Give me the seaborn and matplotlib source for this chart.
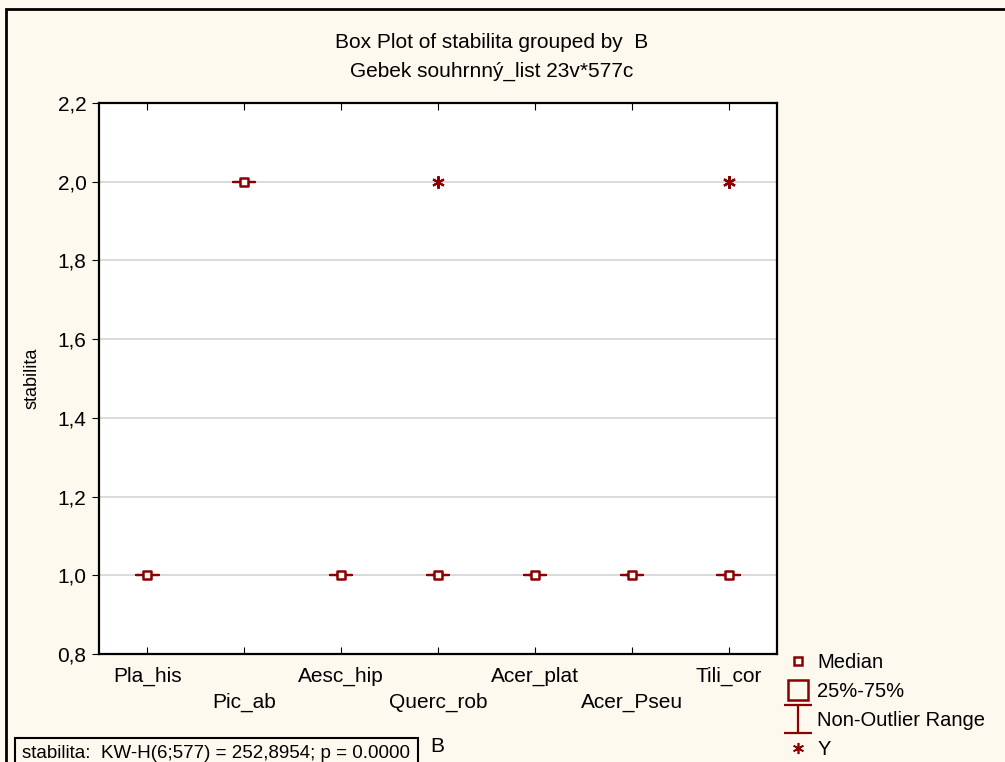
import numpy as np
import pandas as pd
import seaborn as sns
import matplotlib.pyplot as plt
from matplotlib.lines import Line2D
from matplotlib.path import Path
from matplotlib.patches import Rectangle

# stabilita values per tree species (group B)
groups = ["Pla_his", "Pic_ab", "Aesc_hip", "Querc_rob", "Acer_plat", "Acer_Pseu", "Tili_cor"]
pla_his = [1, 1, 1, 1, 1, 1]
pic_ab = [2, 2, 2, 2, 2, 2]
aesc_hip = [1, 1, 1, 1, 1, 1]
querc_rob = [1, 1, 1, 1, 1, 1, 1, 1, 2]
acer_plat = [1, 1, 1, 1, 1, 1]
acer_pseu = [1, 1, 1, 1, 1, 1]
tili_cor = [1, 1, 1, 1, 1, 1, 1, 1, 2, 2]
yticks = [0.8, 1.0, 1.2, 1.4, 1.6, 1.8, 2.0, 2.2]

title = "Box Plot of stabilita grouped by  B\nGebek souhrnný_list 23v*577c"
stat_text = "stabilita:  KW-H(6;577) = 252,8954; p = 0.0000"

series = [pla_his, pic_ab, aesc_hip, querc_rob, acer_plat, acer_pseu, tili_cor]
df = pd.DataFrame({
    "B": [g for g, vals in zip(groups, series) for _ in vals],
    "stabilita": [v for vals in series for v in vals],
})
medians = pd.DataFrame({"B": groups, "median": [np.median(v) for v in series]})

red = "#8B0000"
bg = "#FEF9EE"

sns.set_style("white")
plt.rcParams["font.family"] = ["Liberation Sans", "DejaVu Sans"]
plt.rcParams["text.color"] = "black"
plt.rcParams["xtick.color"] = "black"
plt.rcParams["ytick.color"] = "black"
plt.rcParams["axes.labelcolor"] = "black"

fig = plt.figure(figsize=(10.05, 7.62), dpi=100, facecolor=bg)
ax = fig.add_axes([99 / 1005, 1 - 654 / 762, 678 / 1005, 551 / 762])
ax.set_facecolor("white")

for y in yticks[1:-1]:
    ax.axhline(y, color="#d4d4d4", lw=1.2, zorder=0)

sns.boxplot(data=df, x="B", y="stabilita", order=groups, ax=ax,
            width=0.23, fill=False, color=red, linewidth=1.6,
            flierprops=dict(marker=(6, 2, 0), markersize=9, markeredgecolor=red,
                            markeredgewidth=1.5),
            medianprops=dict(linewidth=0))
sns.scatterplot(data=medians, x="B", y="median", ax=ax, marker="s", s=40,
                facecolor="white", edgecolor=red, linewidth=1.8, zorder=5,
                legend=False)

ax.set_xlim(-0.5, 6.5)
ax.set_ylim(0.8, 2.2)
ax.set_yticks(yticks)
ax.set_yticklabels([f"{v:.1f}".replace(".", ",") for v in yticks], fontsize=15)
ax.set_xticks(range(len(groups)))
ax.set_xticklabels([g if i % 2 == 0 else "\n" + g for i, g in enumerate(groups)],
                   fontsize=15, linespacing=1.5)
ax.tick_params(axis="x", direction="in", length=5, top=True, bottom=True, pad=9)
ax.tick_params(axis="y", direction="out", length=5, left=True, pad=4)
ax.set_xlabel("")
ax.set_ylabel("stabilita", fontsize=13, labelpad=12)
for s in ax.spines.values():
    s.set_color("black")
    s.set_linewidth(1.6)

fig.text(492 / 1005, 1 - 57 / 762, title, ha="center", va="center",
         fontsize=15, linespacing=1.7)

# legend
bar_path = Path([(-1, -1), (1, -1), (0, -1), (0, 1), (-1, 1), (1, 1)],
                [Path.MOVETO, Path.LINETO, Path.MOVETO, Path.LINETO, Path.MOVETO, Path.LINETO])
handles = [
    Line2D([], [], ls="none", marker="s", ms=6, mfc="white", mec=red, mew=1.8),
    Line2D([], [], ls="none", marker="s", ms=15, mfc="none", mec=red, mew=1.8),
    Line2D([], [], ls="none", marker=bar_path, ms=20, mfc="none", mec=red, mew=1.6),
    Line2D([], [], ls="none", marker=(6, 2, 0), ms=8, mec=red, mew=1.2),
]
labels = ["Median", "25%-75%", "Non-Outlier Range", "Y"]
fig.legend(handles, labels, loc="upper left", bbox_to_anchor=(780 / 1005, 1 - 645 / 762),
           frameon=False, fontsize=14.5, handlelength=1.0, handletextpad=0.45,
           labelspacing=0.5, borderaxespad=0)

fig.text(22 / 1005, 1 - 754 / 762, stat_text, ha="left", va="center", fontsize=13.5,
         bbox=dict(boxstyle="square,pad=0.4", fc=bg, ec="black", lw=1.5))
fig.text(430 / 1005, 1 - 746 / 762, "B", ha="left", va="center", fontsize=15)

# outer frame
fig.add_artist(Rectangle((6 / 1005, -0.1), 1.2, 1.1 - 9 / 762, transform=fig.transFigure,
                         fill=False, ec="black", lw=2))

fig.savefig("out.png", dpi=100, facecolor=bg)
